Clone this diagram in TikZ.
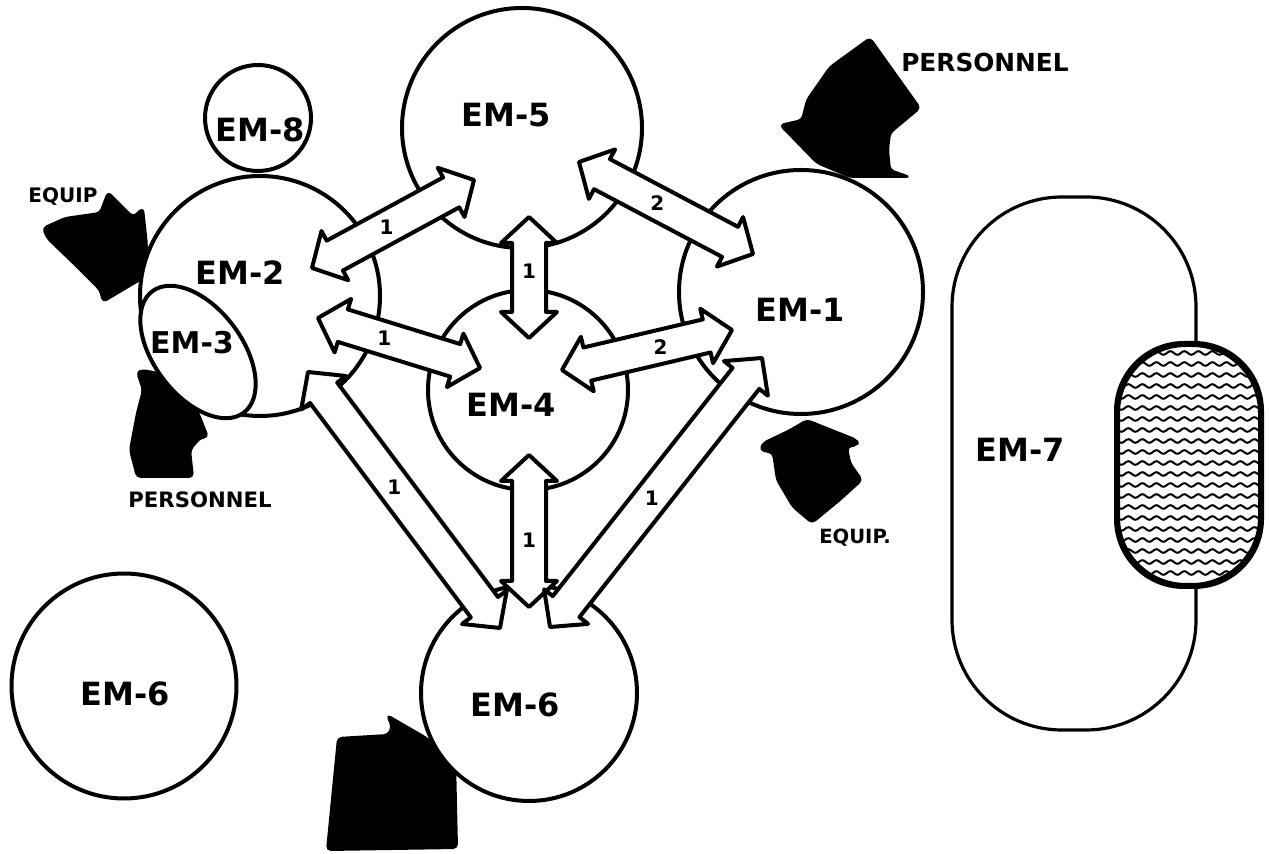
\documentclass[tikz,border=0pt]{standalone}
\usepackage{fontspec}
\setmainfont{DejaVu Sans}
\usetikzlibrary{calc,shapes.geometric,decorations.pathmorphing}

\newcommand{\emlink}[4]{%
  \coordinate (hA) at ($(#1)!13pt!(#2)$);
  \coordinate (hB) at ($(#2)!13pt!(#1)$);
  \draw[linkarrow] (#1)
    -- ($(hA)!14pt!90:(#2)$) -- ($(hA)!8.5pt!90:(#2)$)
    -- ($(hB)!8.5pt!90:(#2)$) -- ($(hB)!14pt!90:(#2)$)
    -- (#2)
    -- ($(hB)!14pt!-90:(#2)$) -- ($(hB)!8.5pt!-90:(#2)$)
    -- ($(hA)!8.5pt!-90:(#2)$) -- ($(hA)!14pt!-90:(#2)$)
    -- cycle;
  \node[linknum] at ($(#1)!#4!(#2)$) {#3};
}

\begin{document}
\begin{tikzpicture}[x=.5pt,y=-.5pt,
  emcircle/.style={circle,draw,fill=white,line width=2pt,inner sep=0pt},
  emtext/.style={font=\bfseries\fontsize{#1}{#1}\selectfont,inner sep=0pt},
  emtext/.default=16,
  flowtext/.style={font=\bfseries\fontsize{#1}{#1}\selectfont,inner sep=0pt},
  flowtext/.default=11,
  flowshape/.style={fill=black,draw=black,line width=1pt,line join=round,rounded corners=2pt},
  linkarrow/.style={draw,fill=white,line width=2pt,line join=round},
  linknum/.style={font=\bfseries\fontsize{10}{11}\selectfont,inner sep=1pt},
  hatchline/.style={line width=1pt,decorate,decoration={snake,amplitude=.9pt,segment length=7pt}}]
\useasboundingbox (0,0) rectangle (1269,854);

\path[flowshape] (870,38) -- (920,108) -- (890,133) -- (888,150) -- (890,170) -- (910,177) -- (850,177) -- (817,163) -- (780,125) -- (802,120) -- (807,100) -- (830,67) -- cycle;
\path[flowshape] (43,228) -- (65,218) -- (100,213) -- (108,192) -- (133,217) -- (143,208) -- (147,245) -- (145,277) -- (103,302) -- (100,290) -- (75,265) -- (47,238) -- cycle;
\path[flowshape] (137,372) -- (143,370) -- (183,378) -- (190,393) -- (200,417) -- (208,437) -- (200,438) -- (190,450) -- (193,477) -- (137,477) -- (130,450) -- (137,413) -- (143,390) -- cycle;
\path[flowshape] (807,420) -- (857,440) -- (858,445) -- (847,447) -- (850,463) -- (862,480) -- (840,500) -- (812,523) -- (793,507) -- (777,480) -- (773,453) -- (760,450) -- (763,443) -- (790,430) -- cycle;
\path[flowshape] (387,715) -- (425,737) -- (455,760) -- (457,848) -- (327,850) -- (338,738) -- (388,735) -- (392,727) -- cycle;

\node[flowtext=12.4] (pers1) at (985,62) {PERSONNEL};
\node[flowtext=10.6] (pers2) at (200,500) {PERSONNEL};
\node[flowtext=10] (equip2) at (63,197) {EQUIP};
\node[flowtext=9.8] (equip1) at (855,538) {EQUIP.};

\node[emcircle,minimum size=122pt] (em1) at (801,292) {};
\node[emcircle,minimum size=120pt] (em2) at (260,296) {};
\node[ellipse,draw,fill=white,line width=2pt,minimum width=76pt,minimum height=44pt,rotate=-53,inner sep=0pt] (em3) at (198,352) {};
\node[emcircle,minimum size=100pt] (em4) at (528,390) {};
\node[emcircle,minimum size=120pt] (em5) at (522,128) {};
\node[emcircle,minimum size=108pt] (em6) at (529,693) {};
\node[emcircle,minimum size=112.5pt] (em6b) at (124,686) {};
\node[emcircle,minimum size=53pt] (em8) at (258,118) {};
\node[draw,line width=1.6pt,rounded corners=55pt,minimum width=122pt,minimum height=266.5pt,inner sep=0pt] (em7) at (1074,463.5) {};
\node[draw,fill=white,line width=2pt,rounded corners=34pt,minimum width=71pt,minimum height=120pt,inner sep=0pt] (em7core) at (1189,465) {};
\begin{scope}
\clip[rounded corners=34pt] (em7core.north west) rectangle (em7core.south east);
\foreach \yy in {353,364,...,580}
  \draw[hatchline] (1110,\yy) -- (1270,\yy);
\end{scope}
\draw[line width=2pt,rounded corners=34pt] (em7core.north west) rectangle (em7core.south east);

\coordinate (a25) at ($(em2)+(52,-28)$);
\coordinate (b25) at ($(em5)+(-48,52)$);
\coordinate (a51) at ($(em5)+(57,34)$);
\coordinate (b51) at ($(em1)+(-48,-38)$);
\coordinate (a54) at ($(em5)+(7,89)$);
\coordinate (b54) at ($(em4)+(1,-52)$);
\coordinate (a24) at ($(em2)+(58,22)$);
\coordinate (b24) at ($(em4)+(-48,-22)$);
\coordinate (a41) at ($(em4)+(34,-20)$);
\coordinate (b41) at ($(em1)+(-69,38)$);
\coordinate (a26) at ($(em2)+(48,76)$);
\coordinate (b26) at ($(em6)+(-29,-65)$);
\coordinate (a46) at ($(em4)+(1,65)$);
\coordinate (b46) at ($(em6)+(0,-86)$);
\coordinate (a16) at ($(em1)+(-39,66)$);
\coordinate (b16) at ($(em6)+(21,-66)$);

\emlink{a25}{b25}{1}{.46}
\emlink{a51}{b51}{2}{.45}
\emlink{a54}{b54}{1}{.45}
\emlink{a24}{b24}{1}{.41}
\emlink{a41}{b41}{2}{.58}
\emlink{a26}{b26}{1}{.45}
\emlink{a46}{b46}{1}{.56}
\emlink{a16}{b16}{1}{.52}

\node[emtext] (em1-t) at (800,310) {EM-1};
\node[emtext] (em2-t) at (240,273) {EM-2};
\node[emtext=15] (em3-t) at (192,343) {EM-3};
\node[emtext] (em4-t) at (511,405) {EM-4};
\node[emtext] (em5-t) at (506,115) {EM-5};
\node[emtext] (em6-t) at (515,705) {EM-6};
\node[emtext] (em6b-t) at (125,694) {EM-6};
\node[emtext] (em7-t) at (1020,450) {EM-7};
\node[emtext] (em8-t) at (260,130) {EM-8};
\end{tikzpicture}
\end{document}
